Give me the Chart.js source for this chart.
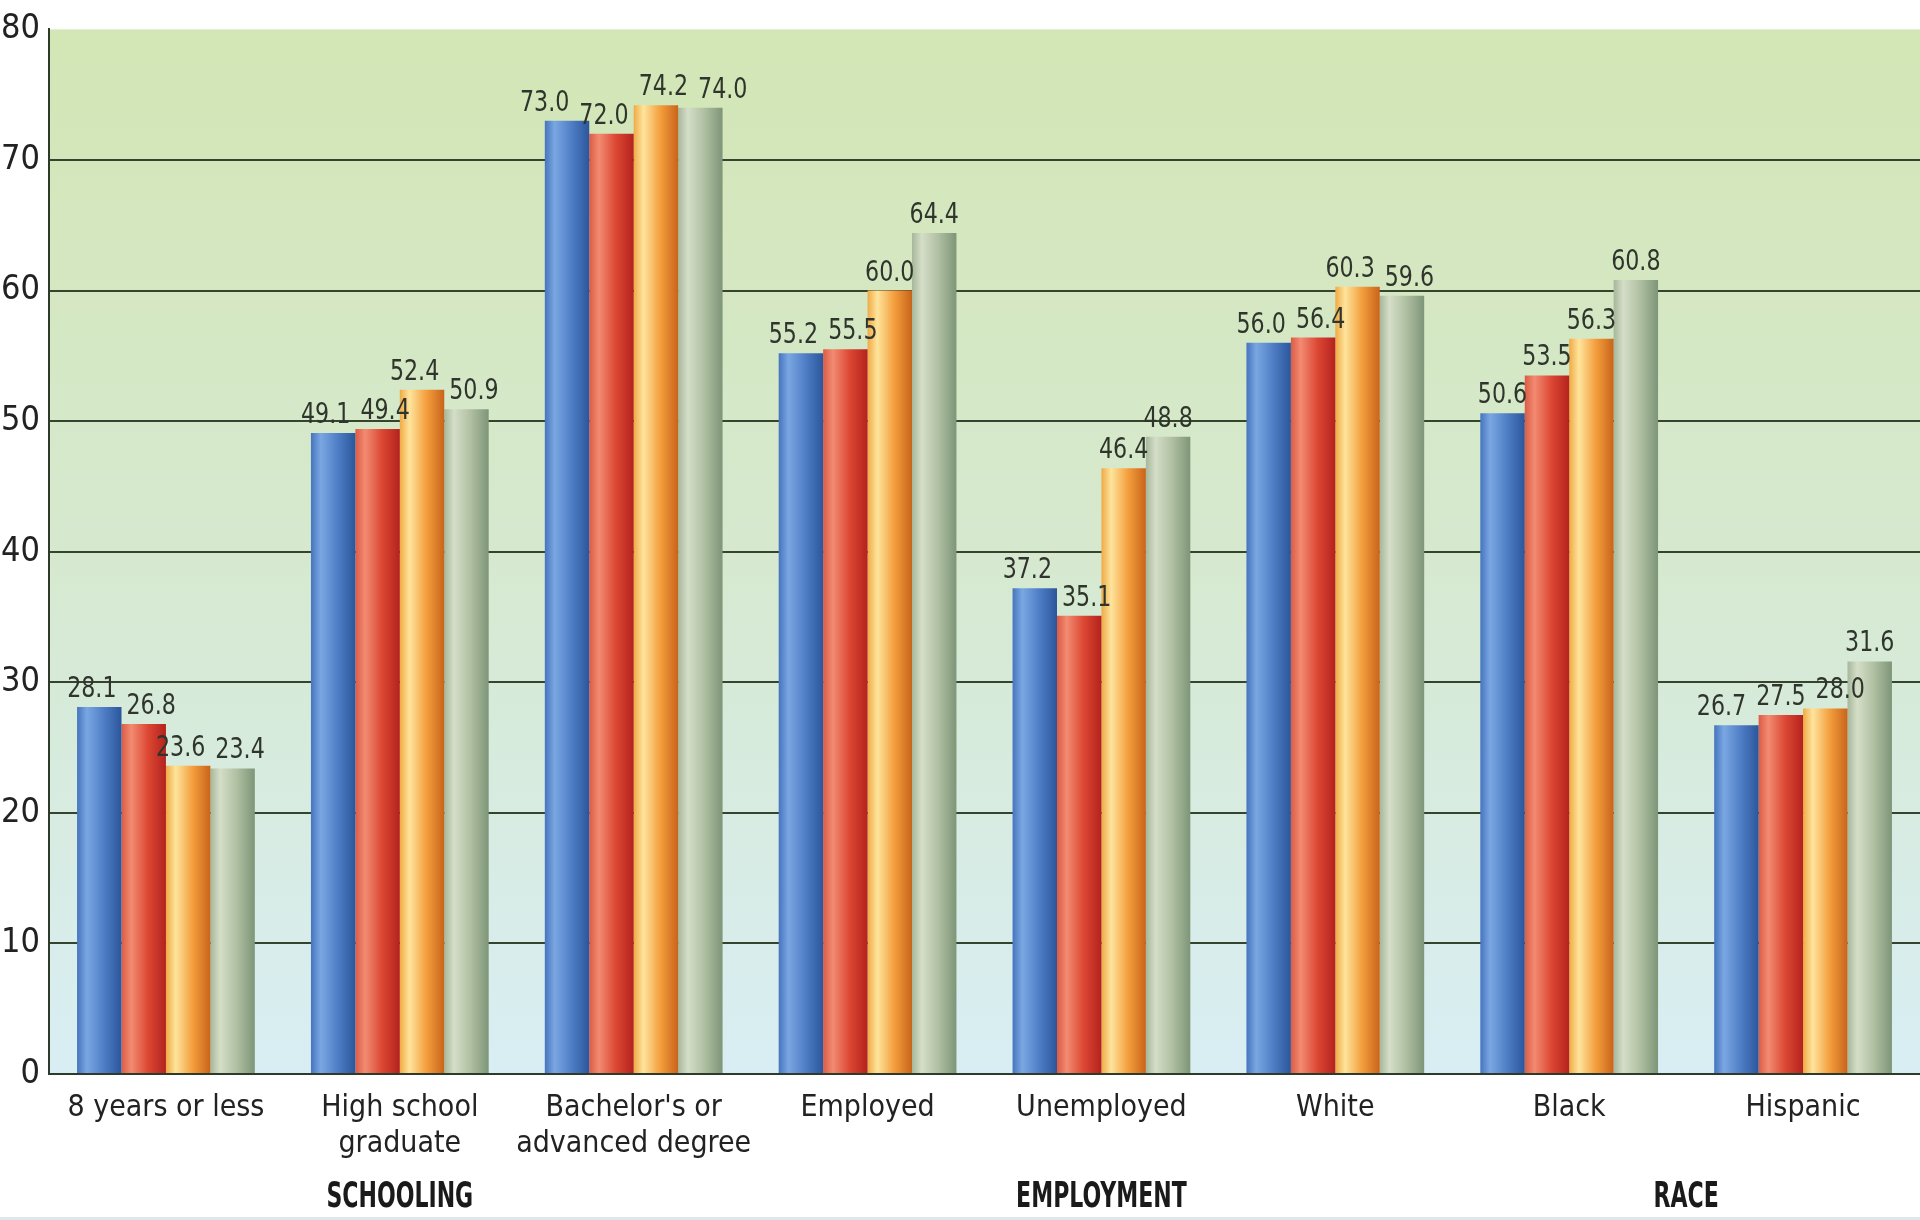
<!DOCTYPE html>
<html>
<head>
<meta charset="utf-8">
<script src="https://cdn.jsdelivr.net/npm/chart.js@4.4.1/dist/chart.umd.min.js"></script>
<style>
  html, body { margin: 0; padding: 0; background: #fff; }
  #wrap { width: 1920px; height: 1220px; position: relative; }
</style>
</head>
<body>
<div id="wrap"><canvas id="bars"></canvas></div>
<script>
// DATA
const categories = [
  "8 years or less",
  ["High school", "graduate"],
  ["Bachelor's or", "advanced degree"],
  "Employed",
  "Unemployed",
  "White",
  "Black",
  "Hispanic"
];
const series1 = [28.1, 49.1, 73.0, 55.2, 37.2, 56.0, 50.6, 26.7];
const series2 = [26.8, 49.4, 72.0, 55.5, 35.1, 56.4, 53.5, 27.5];
const series3 = [23.6, 52.4, 74.2, 60.0, 46.4, 60.3, 56.3, 28.0];
const series4 = [23.4, 50.9, 74.0, 64.4, 48.8, 59.6, 60.8, 31.6];
const groupNames = ["SCHOOLING", "EMPLOYMENT", "RACE"];
const groupAnchors = [1, 4, 6.5]; // category position under which each group name sits
const yTicks = [0, 10, 20, 30, 40, 50, 60, 70, 80];

// STYLE
const FONT = "'Liberation Sans Narrow', 'DejaVu Sans Condensed', 'Arial Narrow', sans-serif";
const barShades = [
  ['#4674be', '#7aa7e2', '#4f7ec6', '#2b569b'],
  ['#dc5b45', '#f28b72', '#dc4733', '#b4221d'],
  ['#f0aa45', '#fee49c', '#f49e3d', '#c8641a'],
  ['#a6b79a', '#d5dec8', '#afbfa1', '#7e9578']
];
const GRID = '#34442f';

const ctx = document.getElementById("bars").getContext("2d");

// draw narrow text by squeezing it sideways
function squeezedText(c, text, x, y, sx) {
  c.save();
  c.translate(x, y);
  c.scale(sx, 1);
  c.fillText(text, 0, 0);
  c.restore();
}

// fill the plot area with the green-to-blue wash
const plotBackground = {
  id: 'plotBackground',
  beforeDraw(chart) {
    const { ctx, chartArea: a } = chart;
    const g = ctx.createLinearGradient(0, a.top, 0, a.bottom);
    g.addColorStop(0, '#d3e6b5');
    g.addColorStop(0.5, '#d6e9cf');
    g.addColorStop(1, '#d9eef4');
    ctx.save();
    ctx.fillStyle = g;
    ctx.fillRect(a.left, a.top, a.right - a.left, a.bottom - a.top);
    ctx.fillStyle = '#dde7ee';
    ctx.fillRect(0, chart.height - 3, chart.width, 3);
    ctx.restore();
  }
};

// give each bar a cylinder-like shading
const barShading = {
  id: 'barShading',
  beforeDatasetsDraw(chart) {
    const ctx = chart.ctx;
    chart.data.datasets.forEach((ds, i) => {
      const stops = barShades[i];
      chart.getDatasetMeta(i).data.forEach(bar => {
        const x0 = bar.x - bar.width / 2, x1 = bar.x + bar.width / 2;
        const g = ctx.createLinearGradient(x0, 0, x1, 0);
        g.addColorStop(0, stops[0]);
        g.addColorStop(0.22, stops[1]);
        g.addColorStop(0.6, stops[2]);
        g.addColorStop(1, stops[3]);
        bar.options = Object.assign({}, bar.options, { backgroundColor: g });
      });
    });
  }
};

// value labels above the bars, pushed apart where they would collide
const barText = {
  id: 'barText',
  afterDatasetsDraw(chart) {
    const ctx = chart.ctx;
    const SX = 0.85, GAP = 10, LINE = 30;
    ctx.save();
    ctx.font = "29px " + FONT;
    ctx.fillStyle = '#2f352c';
    ctx.textAlign = 'center';
    ctx.textBaseline = 'bottom';
    const n = chart.data.labels.length;
    for (let j = 0; j < n; j++) {
      const items = chart.data.datasets.map((ds, i) => {
        const bar = chart.getDatasetMeta(i).data[j];
        const txt = ds.data[j].toFixed(1);
        return { txt, x: bar.x, y: bar.y - 3, w: ctx.measureText(txt).width * SX };
      });
      for (let pass = 0; pass < 20; pass++) {
        for (let k = 0; k < items.length - 1; k++) {
          const a = items[k], b = items[k + 1];
          if (Math.abs(a.y - b.y) >= LINE) continue;
          const need = (a.w + b.w) / 2 + GAP - (b.x - a.x);
          if (need > 0) { a.x -= need / 2; b.x += need / 2; }
        }
      }
      items.forEach(it => squeezedText(ctx, it.txt, it.x, it.y, SX));
    }
    ctx.restore();
  },
  afterDraw(chart) {
    const ctx = chart.ctx, x = chart.scales.x;
    ctx.save();
    ctx.font = "bold 35px " + FONT;
    ctx.fillStyle = '#1a1a1a';
    ctx.textAlign = 'center';
    ctx.textBaseline = 'middle';
    groupNames.forEach((name, i) => {
      squeezedText(ctx, name, x.getPixelForValue(groupAnchors[i]), 1198, 0.7);
    });
    ctx.restore();
  }
};

const my_chart = new Chart(ctx, {
  type: 'bar',
  data: {
    labels: categories,
    datasets: [series1, series2, series3, series4].map((d, i) => ({
      data: d,
      backgroundColor: barShades[i][2],
      borderWidth: 0,
      categoryPercentage: 0.76,
      barPercentage: 1.0
    }))
  },
  options: {
    responsive: true,
    maintainAspectRatio: false,
    animation: false,
    layout: { padding: { top: 24, right: 0, left: 0, bottom: 0 } },
    plugins: {
      legend: { display: false },
      tooltip: { enabled: false }
    },
    scales: {
      x: {
        grid: { display: false },
        border: { display: true, color: '#2e3a2a', width: 2 },
        ticks: {
          color: '#222',
          font: { family: FONT, size: 30 },
          padding: 8,
          maxRotation: 0,
          autoSkip: false
        },
        afterFit(scale) { scale.height = 146; }
      },
      y: {
        min: 0,
        max: 80,
        afterBuildTicks(scale) { scale.ticks = yTicks.map(v => ({ value: v })); },
        grid: {
          color: c => (c.tick && c.tick.value === 80 ? 'rgba(0,0,0,0)' : GRID),
          lineWidth: 2,
          drawTicks: false
        },
        border: { display: true, color: '#2e3a2a', width: 2 },
        ticks: {
          color: '#222',
          font: { family: FONT, size: 34 },
          padding: 9
        },
        afterFit(scale) { scale.width = 49; }
      }
    }
  },
  plugins: [plotBackground, barShading, barText]
});
</script>
</body>
</html>
